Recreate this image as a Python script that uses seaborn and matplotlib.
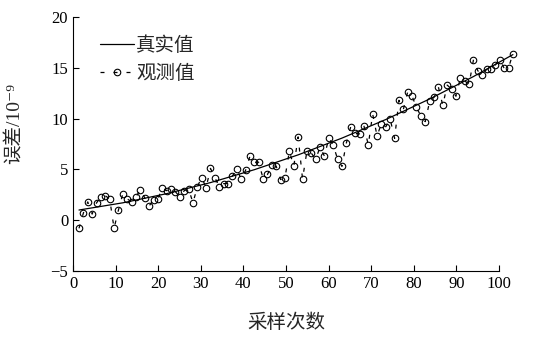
import numpy as np
import pandas as pd
import matplotlib
matplotlib.use('Agg')
import matplotlib.pyplot as plt
import seaborn as sns

# true value curve, read at a few sample indices
true_idx = [1, 11, 21, 31, 41, 51, 61, 71, 81, 91, 100]
true_val = [1.0, 1.71, 2.61, 3.70, 4.97, 6.43, 8.08, 9.91, 11.93, 14.14, 16.3]

# observed values, one per sample (1..100)
obs_val = [-0.8, 0.7, 1.8, 0.6, 1.7, 2.3, 2.4, 2.1, -0.8, 1.0,
           2.6, 2.1, 1.8, 2.3, 3.0, 2.2, 1.4, 2.0, 2.05, 3.2,
           2.9, 3.1, 2.8, 2.3, 2.9, 3.1, 1.7, 3.3, 4.2, 3.2,
           5.1, 4.2, 3.3, 3.6, 3.6, 4.35, 5.0, 4.05, 4.9, 6.3,
           5.7, 5.7, 4.1, 4.5, 5.4, 5.3, 4.0, 4.2, 6.8, 5.3,
           8.2, 4.05, 6.8, 6.6, 6.0, 7.2, 6.3, 8.1, 7.4, 6.0,
           5.3, 7.6, 9.2, 8.55, 8.5, 9.3, 7.4, 10.45, 8.3, 9.5,
           9.2, 9.95, 8.05, 11.8, 10.9, 12.65, 12.2, 11.1, 10.25, 9.7,
           11.7, 12.1, 13.1, 11.3, 13.3, 12.9, 12.2, 14.0, 13.7, 13.4,
           15.8, 14.7, 14.3, 14.85, 14.85, 15.3, 15.8, 14.95, 15.0, 16.4]

x_ticks = [0, 10, 20, 30, 40, 50, 60, 70, 80, 90, 100]
y_ticks = [-5, 0, 5, 10, 15, 20]
legend_labels = ['真实值', '观测值']
x_label = '采样次数'
y_label = '误差/10⁻⁹'


def main():
    sns.set_style('ticks')
    plt.rcParams['font.family'] = ['Liberation Serif', 'Noto Sans CJK SC', 'DejaVu Serif']
    plt.rcParams['axes.unicode_minus'] = True

    # samples are drawn slightly stretched, as in the original figure
    scale = (103.3 - 1.4) / 99
    true_df = pd.DataFrame({'idx': true_idx, 'val': true_val})
    true_df['pos'] = 1.4 + (true_df['idx'] - 1) * scale
    obs_df = pd.DataFrame({'idx': np.arange(1, len(obs_val) + 1), 'val': obs_val})
    obs_df['pos'] = 1.4 + (obs_df['idx'] - 1) * scale

    fig = plt.figure(figsize=(5.37, 3.4), dpi=100)
    ax = fig.add_axes([0.136, 0.203, 0.793, 0.747])

    sns.lineplot(data=true_df, x='pos', y='val', ax=ax, color='black', lw=0.9,
                 label=legend_labels[0], clip_on=False)
    sns.lineplot(data=obs_df, x='pos', y='val', ax=ax, color='black', lw=0.9,
                 linestyle=(0, (3.2, 7.2)), marker='o', markersize=4.7,
                 mfc='none', mec='black', mew=0.8,
                 label=legend_labels[1], clip_on=False)

    ax.set_xlim(0, 100)
    ax.set_ylim(-5, 20)
    ax.set_xticks(x_ticks)
    ax.set_yticks(y_ticks)
    ax.tick_params(direction='in', length=4, width=0.8, labelsize=12, colors='black')
    for side in ['top', 'right']:
        ax.spines[side].set_visible(False)
    for side in ['left', 'bottom']:
        ax.spines[side].set_linewidth(0.8)
        ax.spines[side].set_color('black')

    ax.set_xlabel(x_label, fontsize=14, labelpad=16)
    ax.set_ylabel(y_label, fontsize=14)
    ax.yaxis.set_label_coords(-0.115, 0.58)

    ax.legend(loc='upper left', bbox_to_anchor=(0.045, 0.955), frameon=False,
              handlelength=1.75, handletextpad=0.1, labelspacing=0.5,
              fontsize=14, borderaxespad=0)

    fig.savefig('out.png', dpi=100)
    plt.close(fig)


if __name__ == "__main__":
    main()
